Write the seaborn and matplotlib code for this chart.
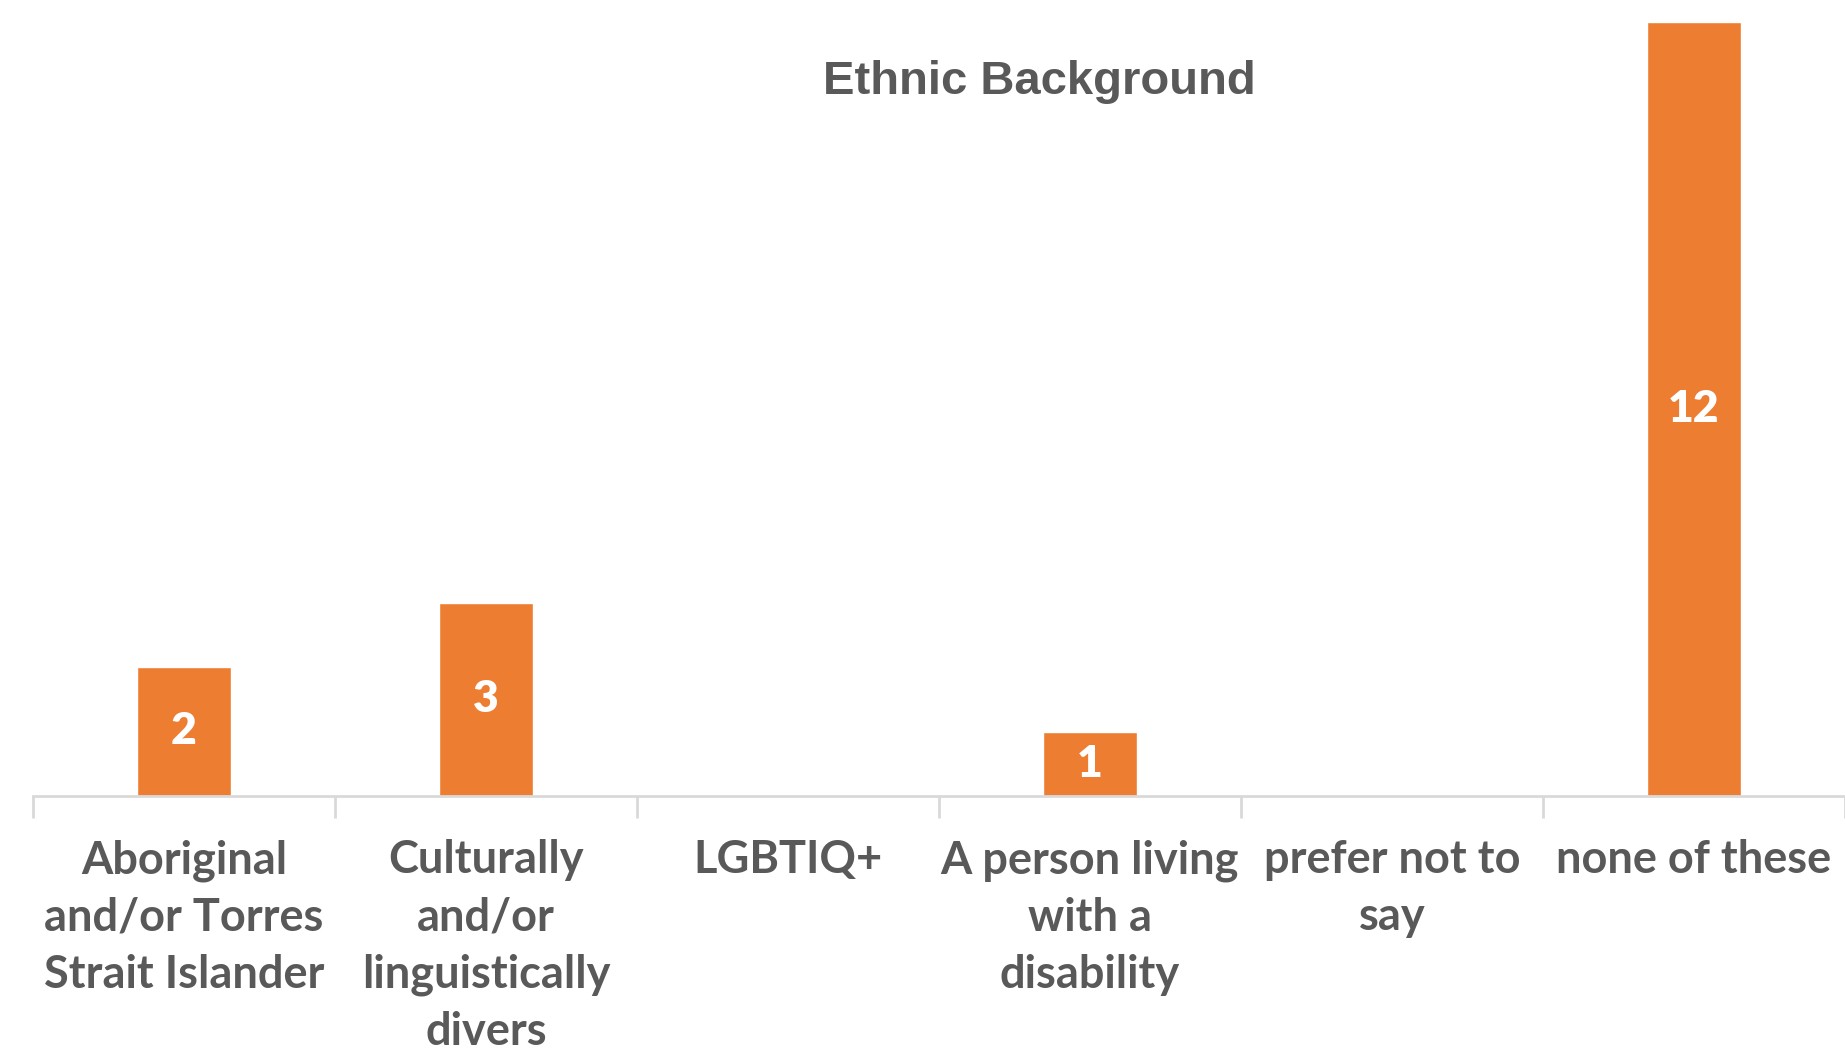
import matplotlib.pyplot as plt
import seaborn as sns
import pandas as pd

categories = [
    "Aboriginal\nand/or Torres\nStrait Islander",
    "Culturally\nand/or\nlinguistically\ndivers",
    "LGBTIQ+",
    "A person living\nwith a\ndisability",
    "prefer not to\nsay",
    "none of these",
]
counts = [2, 3, 0, 1, 0, 12]
title = "Ethnic Background"

bar_color = "#ED7D31"
text_color = "#595959"
axis_color = "#D9D9D9"

sns.set_theme(style="white")
plt.rcParams["font.family"] = ["Lato", "DejaVu Sans"]

df = pd.DataFrame({"category": categories, "count": counts})

fig = plt.figure(figsize=(18.45, 10.55), dpi=100)
ax = fig.add_axes([33 / 1845, 1 - 796 / 1055, 1812 / 1845, 774 / 1055])

sns.barplot(data=df, x="category", y="count", color=bar_color,
            width=0.31, saturation=1, ax=ax)

ax.set_ylim(0, 12)
ax.set_xlim(-0.5, len(categories) - 0.5)
ax.set_xlabel("")
ax.set_ylabel("")
ax.set_yticks([])

for side in ["top", "right", "left"]:
    ax.spines[side].set_visible(False)
ax.spines["bottom"].set_color(axis_color)
ax.spines["bottom"].set_linewidth(2)

# category boundaries as small ticks below the axis
ax.set_xticks([i - 0.5 for i in range(len(categories) + 1)], minor=True)
ax.tick_params(axis="x", which="minor", length=16, width=2, color=axis_color,
               direction="out", bottom=True)
ax.tick_params(axis="x", which="major", length=0, pad=31)
ax.set_xticks(range(len(categories)))
ax.set_xticklabels(categories, fontsize=32.5, fontweight="bold",
                   color=text_color, linespacing=1.45, va="top", ha="center")

for cont in ax.containers:
    labels = [str(v) if v > 0 else "" for v in counts]
    ax.bar_label(cont, labels=labels, label_type="center", color="white",
                 fontsize=32, fontweight="heavy")

fig.text(1039 / 1845, 1 - 82 / 1055, title, ha="center", va="center",
         fontsize=34, fontweight="bold", color=text_color,
         family=["Liberation Sans", "DejaVu Sans"])

fig.savefig("out.png", dpi=100)
plt.close(fig)
